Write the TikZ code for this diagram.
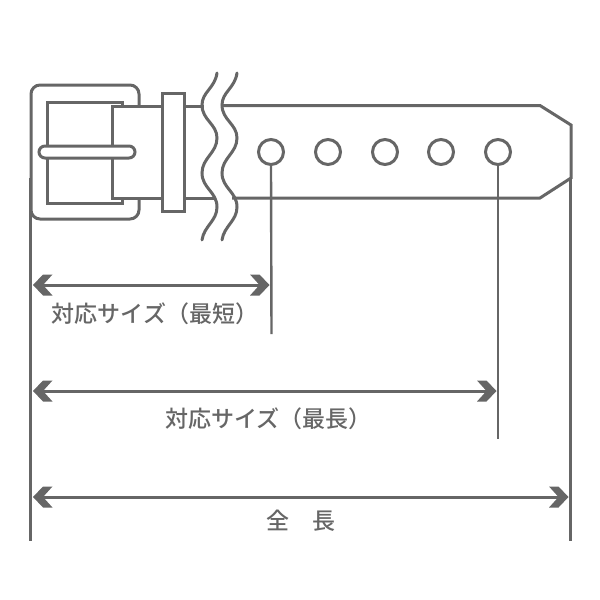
\documentclass[tikz,border=0pt]{standalone}
\usepackage{fontspec}
\usetikzlibrary{arrows.meta}
\newfontfamily\jpfont{Noto Sans CJK JP Medium}
\definecolor{ink}{HTML}{666666}
\tikzset{
  shape line/.style={draw=ink,line width=3pt,fill=white,line join=miter},
  thin shape/.style={draw=ink,line width=3pt,line join=round},
  wave line/.style={draw=ink,line width=3pt,line cap=round},
  dim line/.style={draw=ink,line width=2.4pt},
  dim arrow/.style={draw=ink,line width=3pt},
  chevron/.pic={\fill[ink] (0,0) -- (10,-10.5) -- (19.5,-10.5) -- (10,0) -- (19.5,10.5) -- (10,10.5) -- cycle;},
  hole/.style={circle,draw=ink,line width=3pt,fill=white,minimum size=25pt,inner sep=0pt},
  dim label/.style={text=ink,font=\jpfont\fontsize{23pt}{23pt}\selectfont,inner sep=0pt,anchor=center}
}
\begin{document}
\begin{tikzpicture}[x=1pt,y=-1pt]
\useasboundingbox (0,0) rectangle (600,600);
% buckle frame
\draw[thin shape,rounded corners=9pt] (139,106) -- (139,85) -- (31,85) -- (31,219) -- (139,219) -- (139,198);
% buckle inner
\draw[shape line,fill=none] (122,106) -- (122,102) -- (47,102) -- (47,203) -- (122,203) -- (122,198);
% belt tongue
\draw[shape line] (162,106) -- (112,106) -- (112,198) -- (162,198);
% pin
\draw[shape line,rounded corners=6pt] (39,146) rectangle (135,158);
% keeper
\draw[shape line] (162,93) rectangle (184,211);
% belt edges between keeper and waves
\draw[shape line] (184,106) -- (204,106);
\draw[shape line] (184,198) -- (214,198);
% belt body
\draw[shape line,fill=none] (222,105.5) -- (540,105.5) -- (571,125) -- (571,178) -- (540,198) -- (232,198);
% waves
\foreach \dx in {0,20}{
\draw[wave line,xshift=\dx pt] (217,73) .. controls (215,88) and (202,92) .. (202,105)
  .. controls (202,120) and (217,124) .. (217,138)
  .. controls (217,153) and (202,158) .. (202,173)
  .. controls (202,188) and (217,192) .. (217,207)
  .. controls (217,221) and (204,226) .. (202,240);
}
% holes
\node[hole] (h1) at (271,152) {};
\node[hole] (h2) at (328,152) {};
\node[hole] (h3) at (385,152) {};
\node[hole] (h4) at (441,152) {};
\node[hole] (h5) at (498,152) {};
% dimension lines
\coordinate (ltop) at (30.5,178); \coordinate (lbot) at (30.5,541);
\coordinate (rtop) at (570.5,178); \coordinate (rbot) at (570.5,541);
\coordinate (sbot) at (271.5,334); \coordinate (mbot) at (498,439);
\draw[dim line] (ltop) -- (lbot);
\draw[dim line] (rtop) -- (rbot);
\draw[dim line] (h1.south) -- (sbot);
\draw[dim line] (h5.south) -- (mbot);
% arrows
\coordinate (a1l) at (33,285); \coordinate (a1r) at (269.5,285);
\coordinate (a2l) at (33,391); \coordinate (a2r) at (496.5,391);
\coordinate (a3l) at (33,497); \coordinate (a3r) at (568.5,497);
\foreach \l/\r in {a1l/a1r,a2l/a2r,a3l/a3r}{
  \draw[dim arrow] ([xshift=8pt]\l) -- ([xshift=-8pt]\r);
  \pic at (\l) {chevron};
  \pic[xscale=-1] at (\r) {chevron};
}
% labels
\node[dim label] (t1) at (155,314) {対応サイズ（最短）};
\node[dim label] (t2) at (268.5,419) {対応サイズ（最長）};
\node[dim label] (t3) at (301,521) {全　長};
\end{tikzpicture}
\end{document}
